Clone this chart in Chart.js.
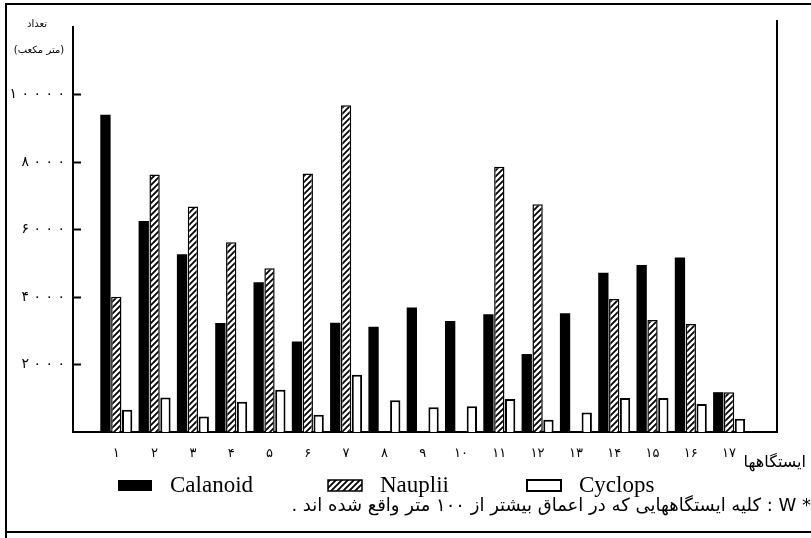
<!DOCTYPE html>
<html lang="fa">
<head>
<meta charset="UTF-8">
<title>تعداد زئوپلانکتون در ایستگاهها</title>
<script src="https://cdn.jsdelivr.net/npm/chart.js"></script>
<style>
  html, body { margin: 0; padding: 0; background: #fff; }
</style>
</head>
<body>
<canvas id="chart" width="811" height="538"></canvas>
<script>
// ایستگاهها
const stations = [1, 2, 3, 4, 5, 6, 7, 8, 9, 10, 11, 12, 13, 14, 15, 16, 17];
const stationLabels = ['۱', '۲', '۳', '۴', '۵', '۶', '۷', '۸', '۹', '۱۰', '۱۱', '۱۲', '۱۳', '۱۴', '۱۵', '۱۶', '۱۷'];

// تعداد در متر مکعب
const calanoid = [9400, 6250, 5270, 3230, 4440, 2680, 3240, 3120, 3690, 3290, 3490, 2310, 3520, 4720, 4950, 5170, 1180];
const nauplii  = [4010, 7630, 6680, 5620, 4850, 7660, 9680, null, null, null, 7860, 6750, null, 3940, 3320, 3200, 1180];
const cyclops  = [660, 1020, 460, 900, 1250, 510, 1700, 940, 730, 760, 980, 360, 580, 1010, 1010, 830, 390];

const yTicks = [2000, 4000, 6000, 8000, 10000];
const yTickLabels = ['۲ ۰ ۰ ۰', '۴ ۰ ۰ ۰', '۶ ۰ ۰ ۰', '۸ ۰ ۰ ۰', '۱ ۰ ۰ ۰ ۰'];

// هاشور مورب برای Nauplii
function hatch() {
    const c = document.createElement('canvas');
    c.width = 6; c.height = 6;
    const g = c.getContext('2d');
    g.fillStyle = '#fff';
    g.fillRect(0, 0, 6, 6);
    g.strokeStyle = '#000';
    g.lineWidth = 1.8;
    g.beginPath();
    g.moveTo(0, 6); g.lineTo(6, 0);
    g.moveTo(-1, 1); g.lineTo(1, -1);
    g.moveTo(5, 7); g.lineTo(7, 5);
    g.stroke();
    return g.createPattern(c, 'repeat');
}

function points(values) {
    return stations.map((s, i) => ({ x: s, y: values[i] }));
}

// قاب، عنوانها، راهنما و پانویس
const decor = {
    id: 'decor',
    afterDraw(chart) {
        const { ctx, chartArea: a } = chart;
        ctx.save();
        ctx.strokeStyle = '#000';
        ctx.lineWidth = 2;
        ctx.beginPath();
        ctx.moveTo(6, 538); ctx.lineTo(6, 4); ctx.lineTo(811, 4);
        ctx.moveTo(6, 532); ctx.lineTo(811, 532);
        ctx.moveTo(a.right, 20); ctx.lineTo(a.right, a.bottom);
        ctx.stroke();

        ctx.fillStyle = '#000';
        ctx.direction = 'rtl';
        ctx.textBaseline = 'middle';
        ctx.textAlign = 'center';
        ctx.font = '10px "DejaVu Sans"';
        ctx.fillText('تعداد', 37, 24);
        ctx.fillText('(متر مکعب)', 39, 50);

        ctx.textAlign = 'right';
        ctx.font = '16px "DejaVu Sans"';
        ctx.fillText('ایستگاهها', 806, 463);
        ctx.font = '18px "DejaVu Sans"';
        ctx.fillText('* W : کلیه ایستگاههایی که در اعماق بیشتر از ۱۰۰ متر واقع شده اند .', 811, 506);

        // راهنما
        const legendX = [118, 328, 527];
        ctx.direction = 'ltr';
        ctx.textAlign = 'left';
        chart.data.datasets.forEach((ds, i) => {
            const x = legendX[i], y = 480;
            ctx.fillStyle = ds.backgroundColor;
            ctx.fillRect(x, y, 34, 11);
            if (ds.borderWidth) {
                ctx.lineWidth = ds.borderWidth;
                ctx.strokeStyle = '#000';
                ctx.strokeRect(x, y, 34, 11);
            }
            ctx.fillStyle = '#000';
            ctx.font = '23px "Liberation Serif"';
            ctx.fillText(ds.label, x + 52, y + 6);
        });
        ctx.restore();
    }
};

Chart.defaults.font.family = '"DejaVu Sans"';
Chart.defaults.color = '#000';

new Chart(document.getElementById('chart'), {
    type: 'bar',
    data: {
        datasets: [
            { label: 'Calanoid', data: points(calanoid), backgroundColor: '#000', borderWidth: 0 },
            { label: 'Nauplii', data: points(nauplii), backgroundColor: hatch(), borderColor: '#000', borderWidth: 1.5 },
            { label: 'Cyclops', data: points(cyclops), backgroundColor: '#fff', borderColor: '#000', borderWidth: 2 }
        ]
    },
    options: {
        responsive: false,
        animation: false,
        categoryPercentage: 0.85,
        barPercentage: 0.95,
        layout: { padding: { top: 27, right: 34, left: 0, bottom: 0 } },
        plugins: { legend: { display: false }, tooltip: { enabled: false } },
        scales: {
            x: {
                type: 'linear',
                min: 0.41,
                max: 17.71,
                afterBuildTicks: s => { s.ticks = stations.map(v => ({ value: v })); },
                afterFit: s => { s.height = 106; },
                grid: { display: false },
                border: { display: true, color: '#000', width: 2 },
                ticks: { padding: 6, font: { size: 13 }, callback: (v, i) => stationLabels[i] }
            },
            y: {
                min: 0,
                max: 12000,
                afterBuildTicks: s => { s.ticks = yTicks.map(v => ({ value: v })); },
                afterFit: s => { s.width = 73; },
                border: { display: true, color: '#000', width: 2 },
                grid: { drawOnChartArea: false, drawTicks: true, tickLength: -8, tickColor: '#000', tickWidth: 2 },
                ticks: { padding: 16, font: { size: 14 }, callback: (v, i) => yTickLabels[i] }
            }
        }
    },
    plugins: [decor]
});
</script>
</body>
</html>
